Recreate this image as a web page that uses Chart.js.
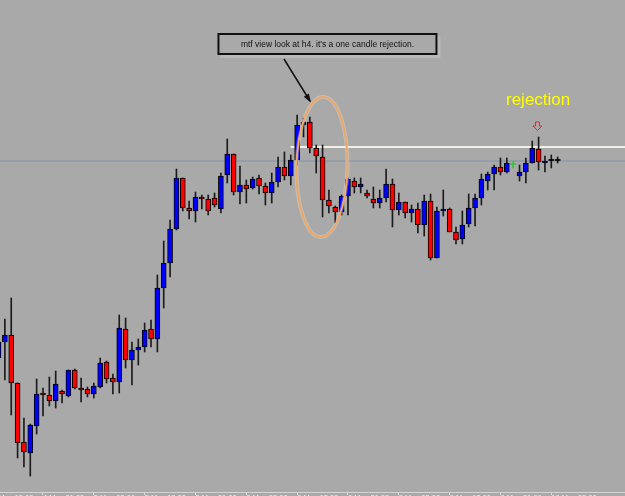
<!DOCTYPE html>
<html><head><meta charset="utf-8">
<script src="https://cdn.jsdelivr.net/npm/chart.js@4.4.0/dist/chart.umd.min.js"></script>
<style>
html,body{margin:0;padding:0;background:#A9A9A9;overflow:hidden;}
#wrap{width:625px;height:496px;overflow:hidden;position:relative;background:#A9A9A9;}
canvas{display:block;}
</style></head><body>
<div id="wrap"><canvas id="c" width="625" height="500"></canvas></div>
<script>
// H1 candles, 4 May 14:00 -> 10 May
const opens = [
.8562,.8578,.8585,.8537,.8478,.8467,.8494,.8527,.8525,.8519,
.8529,.8524,.8550,.8532,.8531,.8526,.8533,.8558,.8542,.8538,
.8591,.8560,.8570,.8573,.8591,.8581,.8632,.8657,.8691,.8742,
.8712,.8709,.8723,.8721,.8722,.8711,.8745,.8766,.8728,.8735,
.8732,.8742,.8734,.8727,.8738,.8753,.8744,.8760,.8795,.8798,
.8772,.8763,.8720,.8713,.8708,.8724,.8739,.8733,.8727,.8721,
.8717,.8722,.8736,.8710,.8718,.8707,.8711,.8695,.8719,.8662,
.8709,.8711,.8688,.8681,.8696,.8712,.8722,.8739,.8746,.8753,
.8748,.8756,.8744,.8748,.8757,.8771,.8757,.8760,.8760];
const highs = [
.8582,.8601,.8622,.8537,.8502,.8496,.8541,.8532,.8543,.8549,
.8530,.8550,.8551,.8542,.8533,.8537,.8562,.8559,.8546,.8605,
.8602,.8578,.8581,.8597,.8600,.8645,.8679,.8700,.8751,.8742,
.8719,.8728,.8725,.8725,.8727,.8747,.8781,.8766,.8754,.8740,
.8743,.8745,.8737,.8747,.8763,.8768,.8765,.8805,.8802,.8803,
.8775,.8775,.8730,.8714,.8725,.8742,.8742,.8742,.8730,.8733,
.8730,.8751,.8741,.8727,.8718,.8715,.8717,.8725,.8726,.8713,
.8730,.8712,.8693,.8709,.8726,.8726,.8746,.8748,.8755,.8762,
.8762,.8759,.8755,.8762,.8779,.8783,.8764,.8765,.8763];
const lows = [
.8558,.8540,.8505,.8462,.8453,.8444,.8486,.8504,.8514,.8512,
.8517,.8523,.8531,.8518,.8523,.8522,.8532,.8537,.8526,.8527,
.8552,.8535,.8555,.8568,.8573,.8568,.8612,.8643,.8690,.8709,
.8701,.8698,.8711,.8705,.8713,.8707,.8737,.8725,.8716,.8717,
.8731,.8726,.8715,.8717,.8733,.8740,.8735,.8755,.8783,.8767,
.8747,.8703,.8707,.8697,.8705,.8705,.8727,.8727,.8722,.8712,
.8712,.8718,.8693,.8705,.8702,.8698,.8687,.8684,.8660,.8662,
.8704,.8688,.8676,.8676,.8693,.8694,.8715,.8730,.8730,.8745,
.8747,.8752,.8739,.8737,.8757,.8750,.8748,.8752,.8757];
const closes = [
.8578,.8585,.8537,.8477,.8468,.8495,.8526,.8525,.8519,.8536,
.8526,.8550,.8532,.8530,.8526,.8534,.8557,.8541,.8538,.8592,
.8560,.8570,.8573,.8590,.8581,.8632,.8657,.8691,.8742,.8712,
.8709,.8723,.8721,.8709,.8715,.8744,.8766,.8728,.8735,.8731,
.8741,.8734,.8727,.8738,.8753,.8744,.8760,.8795,.8798,.8772,
.8764,.8720,.8714,.8708,.8724,.8741,.8733,.8736,.8724,.8717,
.8722,.8736,.8710,.8718,.8707,.8711,.8695,.8719,.8662,.8709,
.8711,.8688,.8680,.8695,.8712,.8722,.8741,.8746,.8753,.8748,
.8757,.8756,.8748,.8757,.8772,.8758,.8759,.8760,.8760];
const tickIndex = [-1,7,15,23,31,39,47,55,63,71,79,87];
const tickLabels = ['4 May 13:00','4 May 21:00','5 May 05:00','5 May 13:00','5 May 21:00','6 May 05:00','6 May 13:00','6 May 21:00','9 May 05:00','9 May 13:00','9 May 21:00','10 May 05:00'];
const resistanceLevel = 0.8773;
const priceLevel = 0.8759;
const noteText = "mtf view look at h4. it's a one candle rejection.";
const tagText = 'rejection';

const greenDoji = 81;
const bodyData = opens.map((o,i)=>({x:i, y: o===closes[i] ? [o-0.00005, o+0.00005] : [o, closes[i]]}));
const wickData = opens.map((o,i)=>({x:i, y:[lows[i], highs[i]]}));
const bodyColor = opens.map((o,i)=> o===closes[i] ? (i===greenDoji ? '#2ECC2E' : '#000000') : (closes[i]>o ? '#0000FF' : '#FF0000'));
const wickColor = opens.map((o,i)=> i===greenDoji ? '#2ECC2E' : '#1c1c1c');
const isDoji = opens.map((o,i)=> o===closes[i]);

const annot = {
  id:'annot',
  afterDatasetsDraw(chart){
    const ctx = chart.ctx, xs = chart.scales.x, ys = chart.scales.y;
    const P = (i,p)=>[xs.getPixelForValue(i), ys.getPixelForValue(p)];
    ctx.save();
    // ellipse
    const [ex,ey] = P(50.91, 0.8753);
    ctx.beginPath(); ctx.ellipse(ex, ey, 25.5, 70, 0.02, 0, Math.PI*2);
    ctx.strokeStyle='rgba(255,255,255,0.25)'; ctx.lineWidth=4; ctx.stroke();
    ctx.strokeStyle='#EFA766'; ctx.lineWidth=2; ctx.stroke();
    // arrow
    const [ax0,ay0] = P(44.93, 0.8861), [ax1,ay1] = P(49.02, 0.8819);
    ctx.strokeStyle='#111'; ctx.lineWidth=1.5;
    ctx.beginPath(); ctx.moveTo(ax0,ay0); ctx.lineTo(ax1,ay1); ctx.stroke();
    const ang = Math.atan2(ay1-ay0, ax1-ax0);
    ctx.fillStyle='#111'; ctx.beginPath();
    ctx.moveTo(ax1+2*Math.cos(ang), ay1+2*Math.sin(ang));
    ctx.lineTo(ax1-7*Math.cos(ang)+3*Math.sin(ang), ay1-7*Math.sin(ang)-3*Math.cos(ang));
    ctx.lineTo(ax1-7*Math.cos(ang)-3*Math.sin(ang), ay1-7*Math.sin(ang)+3*Math.cos(ang));
    ctx.closePath(); ctx.fill();
    // text box
    const [tx,ty] = P(51.77, 0.8876);
    const bw=218, bh=20;
    ctx.fillStyle='rgba(200,200,200,0.5)';
    ctx.fillRect(tx-bw/2+2, ty-bh/2+2, bw+2, bh+2);
    ctx.fillStyle='#A9A9A9'; ctx.fillRect(tx-bw/2, ty-bh/2, bw, bh);
    ctx.strokeStyle='#111'; ctx.lineWidth=2; ctx.strokeRect(tx-bw/2, ty-bh/2, bw, bh);
    ctx.fillStyle='#111'; ctx.font='8.5px "Liberation Sans", Arial, sans-serif';
    ctx.textAlign='center'; ctx.textBaseline='middle';
    ctx.fillText(noteText, tx, ty+0.5);
    // rejection tag
    const [rx,ry] = P(79.87, 0.8815);
    ctx.fillStyle='#FFFF00'; ctx.font='17px "Liberation Sans", Arial, sans-serif';
    ctx.textAlign='left'; ctx.textBaseline='alphabetic';
    ctx.fillText(tagText, rx, ry);
    // red down arrow
    const [dx,dy] = P(84.82, 0.8794);
    ctx.strokeStyle='#FF2020'; ctx.lineWidth=1;
    ctx.beginPath();
    ctx.moveTo(dx-2, dy-4); ctx.lineTo(dx+2, dy-4); ctx.lineTo(dx+2, dy); ctx.lineTo(dx+4.5, dy);
    ctx.lineTo(dx, dy+4.5); ctx.lineTo(dx-4.5, dy); ctx.lineTo(dx-2, dy); ctx.closePath();
    ctx.stroke();
    ctx.restore();
  }
};

new Chart(document.getElementById('c'), {
  type:'bar',
  data:{ datasets:[
    { type:'line', data:[{x:-5,y:priceLevel},{x:105,y:priceLevel}], borderColor:'#8E9AA8', borderWidth:1.6, pointRadius:0, order:5 },
    { type:'line', data:[{x:45.98,y:resistanceLevel},{x:105,y:resistanceLevel}], borderColor:'#F3F0E6', borderWidth:2, pointRadius:0, order:4 },
    { data:wickData, backgroundColor:wickColor, borderWidth:0, barThickness:1, grouped:false, order:2 },
    { data:bodyData, backgroundColor:bodyColor, borderColor:'#000', borderWidth:(c)=> isDoji[c.dataIndex]?0:1, borderSkipped:false, barThickness:5, grouped:false, order:1 }
  ]},
  options:{
    responsive:false, animation:false, maintainAspectRatio:false,
    layout:{padding:0},
    plugins:{legend:{display:false}, tooltip:{enabled:false}},
    scales:{
      x:{ type:'linear', min:0.233, max:98.6, offset:false,
        grid:{offset:false, drawOnChartArea:false, drawTicks:true, tickLength:3, color:'#DADADA'},
        border:{display:true, color:'#D4D4D4', width:1},
        afterBuildTicks:(s)=>{ s.ticks = tickIndex.map(v=>({value:v})); },
        afterFit:(s)=>{ s.paddingLeft=0; s.paddingRight=0; },
        ticks:{ autoSkip:false, maxRotation:0, align:'start', padding:-2, color:'#F2F2F2',
          font:{family:'"Liberation Sans", Arial, sans-serif', size:7.5},
          callback:(v,i)=>tickLabels[i] }
      },
      y:{ type:'linear', display:false, min:0.8428, max:0.8920 }
    }
  },
  plugins:[annot]
});
</script>
</body></html>
